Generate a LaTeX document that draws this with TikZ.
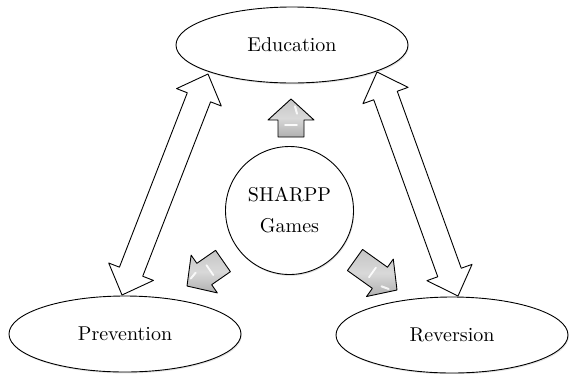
\documentclass[tikz,border=0pt]{standalone}
\usepackage{fontspec}
\setmainfont{lmroman10-regular.otf}
\usetikzlibrary{calc,shapes.geometric,shadows}
\newcommand\mydbl[3]{% #1 name prefix, #2 tip A, #3 tip B
  \path ($(#2)!25pt!(#3)$) coordinate (#1ha) ($(#3)!25pt!(#2)$) coordinate (#1hb);
  \draw[hollow] (#2) -- ($(#1ha)!24pt!90:(#3)$) -- ($(#1ha)!12.5pt!90:(#3)$)
    -- ($(#1hb)!12.5pt!-90:(#2)$) -- ($(#1hb)!24pt!-90:(#2)$) -- (#3)
    -- ($(#1hb)!24pt!90:(#2)$) -- ($(#1hb)!12.5pt!90:(#2)$)
    -- ($(#1ha)!12.5pt!-90:(#3)$) -- ($(#1ha)!24pt!-90:(#3)$) -- cycle;}
\newcommand\myblk[3]{% #1 prefix, #2 tip, #3 tail
  \path ($(#2)!21pt!(#3)$) coordinate (#1hb)
        ($(#1hb)!0.3!(#3)$) coordinate (#1m1)
        ($(#2)!0.35!(#1hb)$) coordinate (#1m2)
        ($(#2)!0.7!(#1hb)$) coordinate (#1m3);
  \draw[blockarrow] (#2) -- ($(#1hb)!23pt!90:(#3)$) -- ($(#1hb)!13pt!90:(#3)$)
    -- ($(#3)!13pt!-90:(#2)$) -- ($(#3)!13pt!90:(#2)$)
    -- ($(#1hb)!13pt!-90:(#3)$) -- ($(#1hb)!23pt!-90:(#3)$) -- cycle;
  \draw[white, line width=1.8pt, line cap=round, opacity=0.9]
    ($(#1m1)!6pt!-90:(#3)$) -- ($(#1m1)!6pt!90:(#3)$);
  \draw[white, line width=2pt, line cap=round, opacity=0.85]
    ($(#1m2)!4pt!90:(#3)$) -- ($(#1m3)!6pt!90:(#3)$);}
\begin{document}
\begin{tikzpicture}[x=1pt,y=-1pt,
  lbl/.style={font=\fontsize{20}{31}\selectfont},
  oval/.style={ellipse, draw, line width=0.9pt, fill=white, minimum width=232pt,
    minimum height=76pt, inner sep=0pt, lbl,
    drop shadow={shadow xshift=0.8pt, shadow yshift=-1.4pt, opacity=0.22}},
  hub/.style={circle, draw, line width=0.9pt, fill=white, minimum size=128pt,
    inner sep=0pt, align=center, lbl,
    drop shadow={shadow xshift=0.8pt, shadow yshift=-1.4pt, opacity=0.22}},
  hollow/.style={draw=black, fill=white, line width=0.9pt, line join=round},
  blockarrow/.style={draw=black, line width=0.9pt, line join=round,
    top color=gray!45, bottom color=gray!62, middle color=gray!30}]
\useasboundingbox (0,0) rectangle (569,373);
\node[oval] (edu) at (292,45) {Education};
\node[oval] (prev) at (125,334) {Prevention};
\node[oval] (rev) at (452,335) {Reversion};
\node[hub] (hubn) at (289.5,210.5) {SHARPP\\Games};
% double arrows between outer ovals
\coordinate (l1) at (208,74);
\coordinate (l2) at (122,295);
\coordinate (r1) at (377,72);
\coordinate (r2) at (458,296);
\mydbl{la}{l1}{l2}
\mydbl{ra}{r1}{r2}
% block arrows out of the hub
\coordinate (ut) at (291,99);
\coordinate (us) at (291,137);
\coordinate (dlt) at (187,286);
\coordinate (dls) at (223,261);
\coordinate (drt) at (397,290);
\coordinate (drs) at (355,260);
\myblk{ua}{ut}{us}
\myblk{da}{dlt}{dls}
\myblk{db}{drt}{drs}
\end{tikzpicture}
\end{document}
